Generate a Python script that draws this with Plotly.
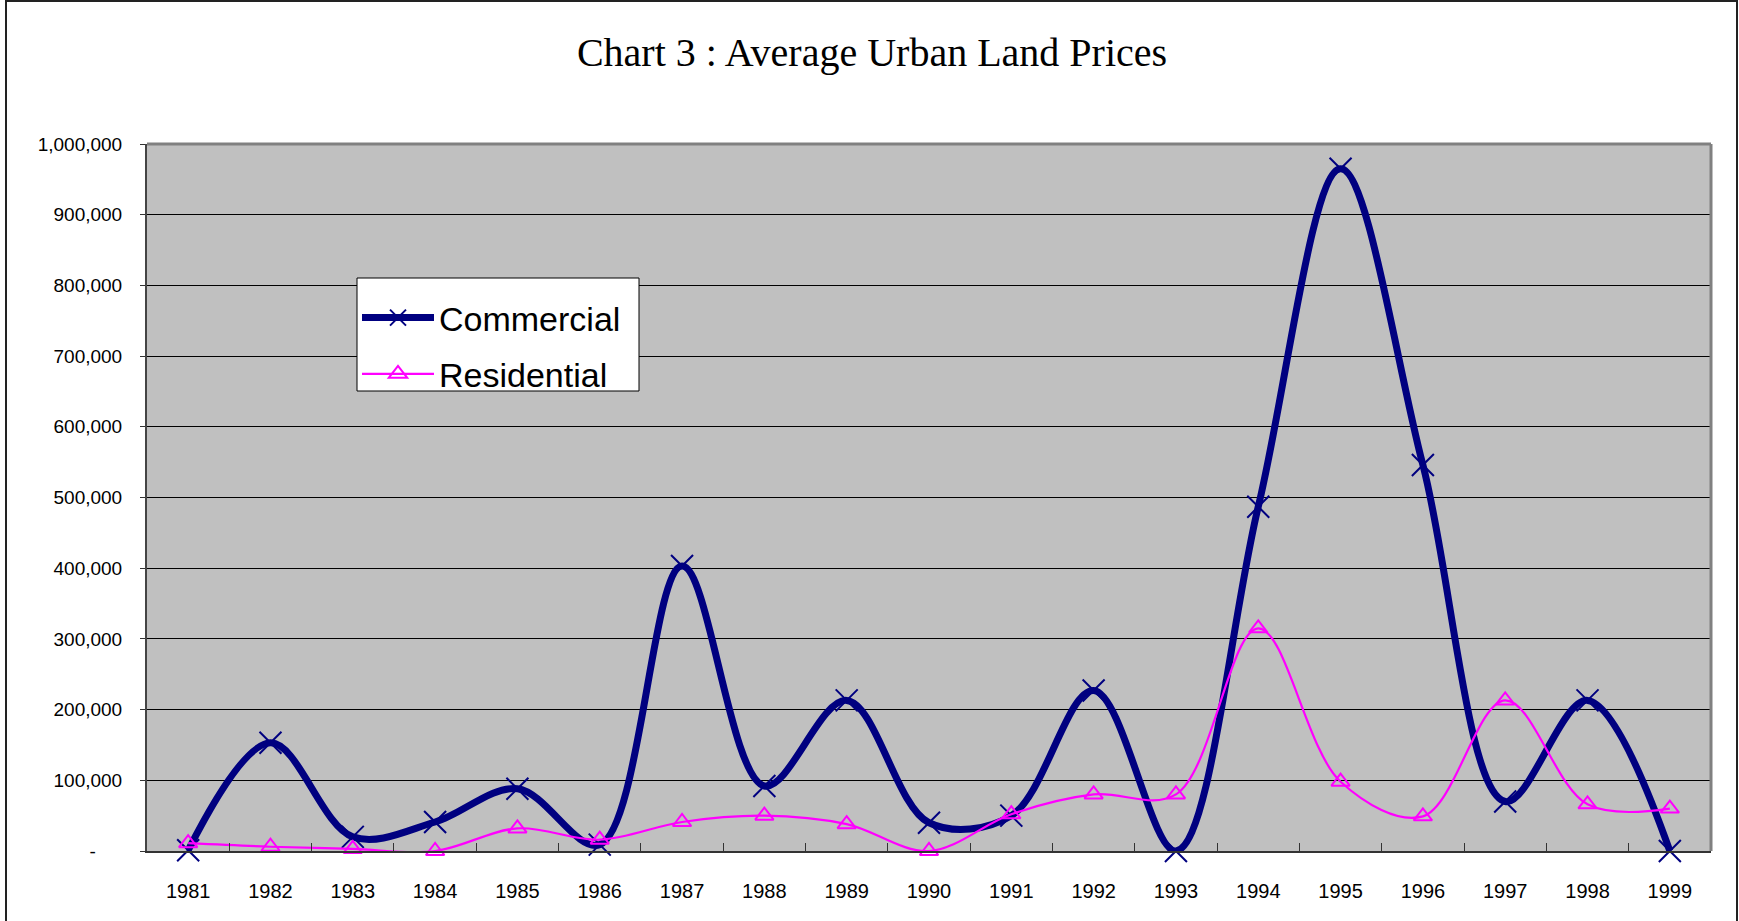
import plotly.graph_objects as go

years = ["1981", "1982", "1983", "1984", "1985", "1986", "1987", "1988", "1989", "1990",
         "1991", "1992", "1993", "1994", "1995", "1996", "1997", "1998", "1999"]
commercial = [1000, 153000, 20000, 41000, 88000, 9000, 403000, 92000, 213000, 40000,
              50000, 227000, 0, 487000, 965000, 546000, 70000, 213000, 0]
residential = [11000, 6000, 3000, 0, 32000, 16000, 41000, 50000, 38000, 0,
               52000, 80000, 80000, 315000, 98000, 49000, 213000, 66000, 60000]

ytickvals = [0, 100000, 200000, 300000, 400000, 500000, 600000, 700000, 800000, 900000, 1000000]
yticktext = ["-\u00a0\u00a0\u00a0\u00a0\u00a0", "100,000", "200,000", "300,000", "400,000", "500,000",
             "600,000", "700,000", "800,000", "900,000", "1,000,000"]

fig = go.Figure()
fig.add_trace(go.Scatter(
    x=years, y=commercial, name="Commercial", mode="lines+markers",
    line=dict(color="#000080", width=7, shape="spline", smoothing=1.0),
    marker=dict(symbol="x-thin-open", size=22, line=dict(color="#000080", width=2)),
    cliponaxis=False, legendgroup="c",
))
fig.add_trace(go.Scatter(
    x=years, y=residential, name="Residential", mode="lines+markers",
    line=dict(color="#FF00FF", width=2.2, shape="spline", smoothing=1.0),
    marker=dict(symbol="triangle-up-open", size=16, color="#FF00FF",
                line=dict(color="#FF00FF", width=2)),
    cliponaxis=False, legendgroup="r",
))

L, R, T, B = 147, 28, 144, 70
PW, PH = 1739 - L - R, 921 - T - B


def px(x):
    return (x - L) / PW


def py(y):
    return (921 - B - y) / PH


fig.update_layout(
    width=1739, height=921,
    margin=dict(l=L, r=R, t=T, b=B),
    paper_bgcolor="white",
    plot_bgcolor="#C0C0C0",
    title=dict(text="Chart 3 : Average Urban Land Prices", x=px(872), xref="paper",
               xanchor="center", y=1 - 52 / 921, yanchor="middle",
               font=dict(family="Liberation Serif, Times New Roman, serif", size=40, color="black")),
    showlegend=True,
    legend=dict(x=px(357), y=py(289), xanchor="left", yanchor="top",
                bgcolor="rgba(0,0,0,0)", borderwidth=0,
                font=dict(family="Liberation Sans, Arial, sans-serif", size=34, color="black"),
                tracegroupgap=9, itemwidth=72),
    xaxis=dict(type="category", range=[-0.5, 18.5], showgrid=False,
               ticks="inside", tickson="boundaries", ticklen=8, tickcolor="#333",
               showline=True, linecolor="#333", linewidth=2, mirror=False,
               tickfont=dict(family="Liberation Sans Narrow, Arial Narrow, Liberation Sans, Arial",
                             size=20, color="black"),
               ticklabelstandoff=21),
    yaxis=dict(range=[0, 1000000], tickvals=ytickvals, ticktext=yticktext,
               showgrid=True, gridcolor="#000000", gridwidth=1,
               ticks="outside", ticklen=5, tickcolor="#333",
               showline=True, linecolor="#444", linewidth=2,
               zeroline=False,
               tickfont=dict(family="Liberation Sans, Arial, sans-serif", size=19, color="black"),
               ticklabelstandoff=14),
    shapes=[
        dict(type="line", xref="paper", yref="paper",
             x0=1.0, x1=1.0, y0=0, y1=1, line=dict(color="#808080", width=3)),
        dict(type="line", xref="paper", yref="paper",
             x0=0, x1=1.0, y0=1.0, y1=1.0, line=dict(color="#808080", width=3)),
        dict(type="rect", xref="paper", yref="paper",
             x0=px(6), x1=px(1737), y0=py(930), y1=py(1),
             line=dict(color="#222222", width=2), layer="below"),
        dict(type="rect", xref="paper", yref="paper",
             x0=px(357), x1=px(639), y0=py(391), y1=py(278),
             fillcolor="white", line=dict(color="#000000", width=1), layer="above"),
    ],
)

fig.write_html("out.html", config={"displayModeBar": False},
               post_script="document.body.style.margin='0';document.body.style.overflow='hidden';")
